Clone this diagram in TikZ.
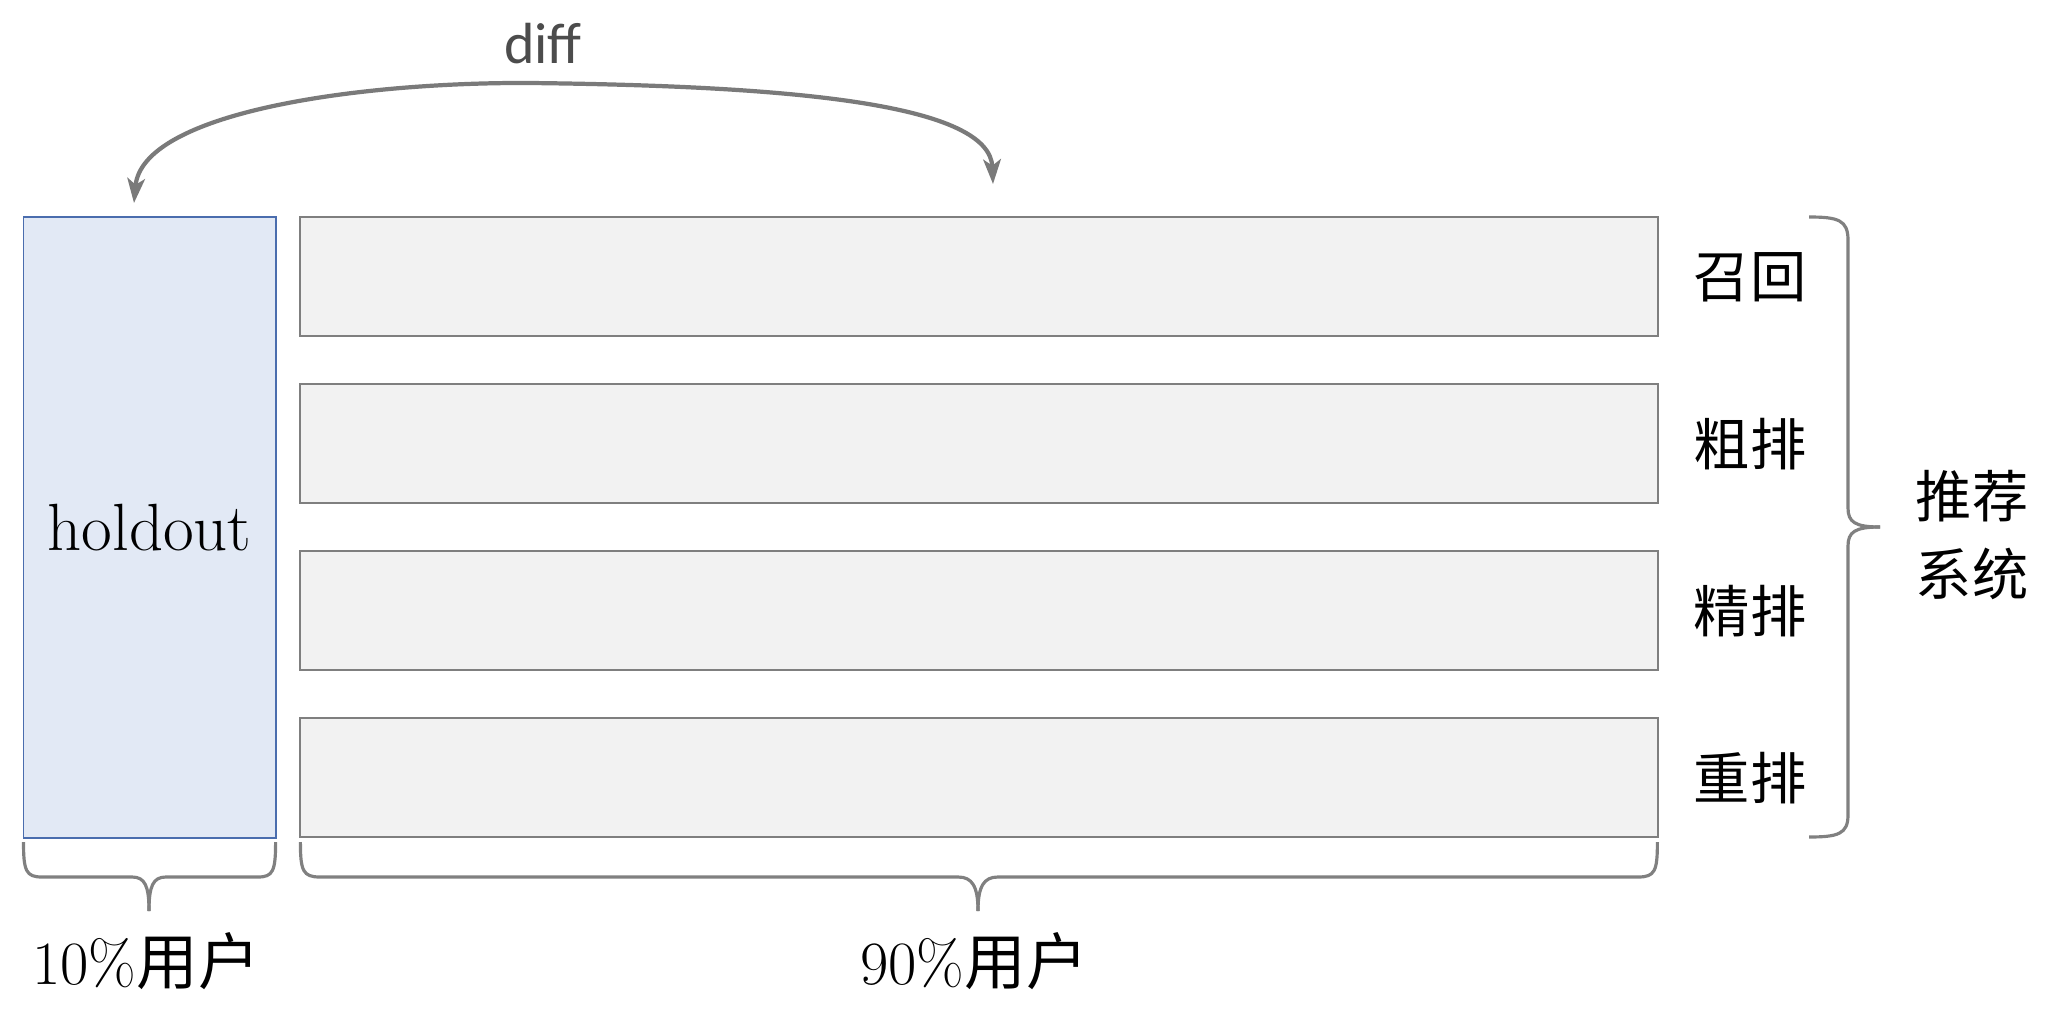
\documentclass[tikz,border=0pt]{standalone}
\usepackage{fontspec}
\newfontfamily\cjk{Noto Sans CJK SC}
\newfontfamily\difffont{Carlito}
\usetikzlibrary{arrows.meta}
\definecolor{holdfill}{HTML}{E2E9F5}
\definecolor{holdline}{HTML}{4A6DAE}
\definecolor{barfill}{HTML}{F2F2F2}
\definecolor{barline}{HTML}{7F7F7F}
\definecolor{bracecol}{HTML}{808080}
\definecolor{arrowcol}{HTML}{7A7A7A}
\begin{document}
\begin{tikzpicture}[x=0.01cm,y=-0.01cm,
  holdbox/.style={draw=holdline,fill=holdfill,line width=0.55pt,inner sep=0pt,outer sep=0pt,
     minimum width=2.52cm,minimum height=6.204cm,anchor=north west,font=\fontsize{19}{22}\selectfont},
  barbox/.style={draw=barline,fill=barfill,line width=0.55pt,inner sep=0pt,outer sep=0pt,
     minimum width=13.57cm,minimum height=1.189cm,anchor=north west},
  stagelabel/.style={font=\cjk\fontsize{16}{18}\selectfont,inner sep=0pt},
  userlabel/.style={font=\fontsize{17.5}{20}\selectfont,inner sep=0pt},
  bracestyle/.style={draw=bracecol,line width=0.9pt},
  diffarrow/.style={draw=arrowcol,line width=1.2pt,{Stealth[length=7pt,width=5pt,inset=1.8pt]}-{Stealth[length=7pt,width=5pt,inset=1.8pt]}}
]
\useasboundingbox (0,0) rectangle (2048,1012);
\fill[white] (0,0) rectangle (2048,1012);

% holdout column
\node[holdbox] (hold) at (23.5,216.8) {holdout};

% bars
\node[barbox] (b1) at (300.4,216.8) {};
\node[barbox] (b2) at (300.4,384.0) {};
\node[barbox] (b3) at (300.4,551.2) {};
\node[barbox] (b4) at (300.4,718.3) {};

% stage labels
\node[stagelabel] (l1) at (1750,277) {召回};
\node[stagelabel] (l2) at (1750,444) {粗排};
\node[stagelabel] (l3) at (1750,611) {精排};
\node[stagelabel] (l4) at (1750,778) {重排};

% right brace
\draw[bracestyle] (1809,217) .. controls (1838,217) and (1848,220) .. (1848,240)
   -- (1848,508) .. controls (1848,522) and (1855,527) .. (1880,527);
\draw[bracestyle] (1880,527) .. controls (1855,527) and (1848,532) .. (1848,546)
   -- (1848,815) .. controls (1848,834) and (1838,837) .. (1809,837);
\node[font=\cjk\fontsize{16}{20}\selectfont,align=center,inner sep=0pt] (sys) at (1972,535) {推荐\\[2pt]系统};

% bottom braces
\draw[bracestyle] (23.5,842) .. controls (23.5,871) and (26,877) .. (42,877)
   -- (132,877) .. controls (145,877) and (149,886) .. (149,911);
\draw[bracestyle] (149,911) .. controls (149,886) and (153,877) .. (166,877)
   -- (258,877) .. controls (273,877) and (275.6,871) .. (275.6,842);
\draw[bracestyle] (300.4,842) .. controls (300.4,871) and (303,877) .. (320,877)
   -- (958,877) .. controls (972,877) and (978,886) .. (978,911);
\draw[bracestyle] (978,911) .. controls (978,886) and (984,877) .. (998,877)
   -- (1638,877) .. controls (1655,877) and (1657.4,871) .. (1657.4,842);

\node[userlabel] (u1) at (146,961) {10\%{\cjk 用户}};
\node[userlabel] (u2) at (974,961) {90\%{\cjk 用户}};

% diff arrow
\coordinate (aL) at (134,203);
\coordinate (aR) at (993,184);
\draw[diffarrow] (aL) .. controls (142,112) and (360,82) .. (530,83)
   .. controls (800,86) and (990,105) .. (aR);
\node[font=\difffont\fontsize{16.5}{19}\selectfont,text=black!70,inner sep=0pt] (diff) at (543,44) {diff};
\end{tikzpicture}
\end{document}
